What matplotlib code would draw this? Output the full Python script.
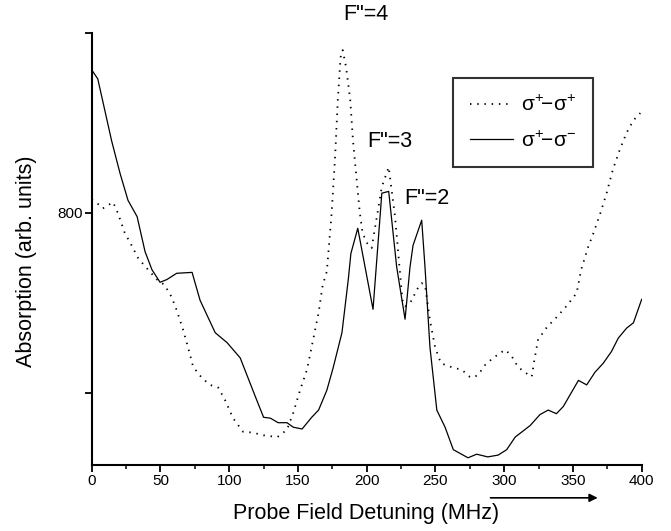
import matplotlib
matplotlib.use('Agg')
import matplotlib.pyplot as plt
from matplotlib.ticker import MultipleLocator

plt.rcParams['font.family'] = ['Liberation Sans', 'DejaVu Sans']
plt.rcParams['mathtext.fontset'] = 'custom'
plt.rcParams['mathtext.rm'] = 'Liberation Sans'

# sigma+ - sigma+ (dotted)
pp_x = [0, 3.9, 8, 15.5, 19, 24, 29, 33.7, 37, 41, 47.5, 53, 58, 61.8, 66.5, 70, 73.8,
        80, 86, 92, 97, 102.8, 110, 117, 125, 135, 142, 146.6, 151.5, 156.6, 161, 165,
        168, 171, 174.5, 177, 179, 181, 182.5, 185, 188, 190, 192.7, 195, 197, 200,
        203.6, 211, 216, 220.6, 226, 228, 233, 236, 240, 242.4, 246, 249.7, 254, 263,
        269, 275, 277, 281, 286, 292, 300.6, 305, 310, 315, 320, 322, 324.6, 331, 338,
        345, 352.7, 356, 361, 365, 370, 374.5, 379, 384, 389, 394, 399]
pp_y = [815, 811, 805, 812, 800, 778, 764, 750, 744, 737, 726, 720, 707, 692, 670, 651, 629,
        617, 609, 606, 592, 572, 557, 556, 553, 551, 559, 578, 603, 626, 659, 689,
        720, 735, 800, 862, 926, 973, 981, 962, 926, 881, 837, 800, 778, 767,
        761, 829, 851, 796, 703, 696, 703, 714, 722, 720, 681, 651, 633, 628,
        626, 618, 617, 620, 631, 639, 648, 642, 629, 623, 618, 637, 659, 673, 684,
        696, 711, 737, 762, 778, 800, 822, 848, 870, 889, 903, 911]

# sigma+ - sigma- (solid)
pm_x = [0, 4.4, 14.5, 20.6, 26.4, 33, 38.8, 43.8, 49.7, 54.6, 61.8, 73, 78.8, 89.8, 98.4,
        108, 119, 125, 130, 135.6, 142, 146.6, 153, 160, 165, 171, 175.6, 182, 186.6,
        188.5, 193.5, 204.6, 211, 216, 221.8, 227.9, 231.5, 233.7, 240, 242.4, 246, 251,
        257, 263, 273.7, 280, 288, 295.6, 301.8, 308, 319, 326, 332, 338, 343, 354, 360,
        366, 372, 378, 383, 389, 394, 400]
pm_y = [959, 949, 880, 844, 814, 796, 757, 737, 723, 726, 733, 734, 703, 667, 656,
        639, 596, 573, 572, 567, 567, 562, 560, 573, 581, 603, 628, 667, 726,
        755, 783, 693, 822, 824, 740, 682, 740, 764, 792, 740, 651, 581,
        562, 537, 528, 532, 529, 531, 537, 551, 564, 576, 581, 577, 585, 614, 609,
        623, 633, 646, 661, 672, 678, 704]

x_ticks = [0, 50, 100, 150, 200, 250, 300, 350, 400]
y_ticks = [600, 800, 1000]
y_tick_labels = ['', '800', '']

peak_labels = ['F"=4', 'F"=3', 'F"=2']
peak_x = [199.5, 217, 244]
peak_y = [1020, 879, 816]

fig = plt.figure(figsize=(6.71, 5.31), dpi=100)
ax = fig.add_axes([0.1367, 0.1243, 0.8196, 0.8136])

ax.plot(pp_x, pp_y, color='black', lw=1.3, linestyle=(0, (0.8, 3.2)),
        label=r'$\mathregular{\sigma^{+}\!\!-\!\sigma^{+}}$')
ax.plot(pm_x, pm_y, color='black', lw=0.9,
        label=r'$\mathregular{\sigma^{+}\!\!-\!\sigma^{-}}$')

ax.set_xlim(0, 400)
ax.set_ylim(520, 1000)
ax.set_xticks(x_ticks)
ax.xaxis.set_minor_locator(MultipleLocator(25))
ax.set_yticks(y_ticks)
ax.set_yticklabels(y_tick_labels)

for s in ['top', 'right']:
    ax.spines[s].set_visible(False)
for s in ['left', 'bottom']:
    ax.spines[s].set_linewidth(1.5)

ax.tick_params(axis='both', which='major', direction='out', length=5, width=1.3,
               labelsize=11, pad=1.5)
ax.tick_params(axis='x', which='minor', direction='out', length=3, width=1.1)

ax.set_xlabel('Probe Field Detuning (MHz)', fontsize=15.5)
ax.set_ylabel('Absorption (arb. units)', fontsize=15.5)
ax.xaxis.set_label_coords(0.499, -0.088)
ax.yaxis.set_label_coords(-0.1, 0.472)

for lab, px, py in zip(peak_labels, peak_x, peak_y):
    ax.text(px, py, lab, fontsize=15.5, ha='center', va='center', clip_on=False)

# direction arrow under the axis
ax.annotate('', xy=(370, -0.076), xytext=(288, -0.076),
            xycoords=('data', 'axes fraction'), textcoords=('data', 'axes fraction'),
            arrowprops=dict(arrowstyle='-|>', color='black', lw=1.2, mutation_scale=12),
            annotation_clip=False)

leg = ax.legend(loc='upper left', bbox_to_anchor=(0.675, 0.853),
                bbox_transform=fig.transFigure, fontsize=15, frameon=True,
                fancybox=False, edgecolor='black', handlelength=2.1,
                handletextpad=0.35, labelspacing=0.75, borderpad=0.8,
                borderaxespad=0)
leg.get_frame().set_linewidth(1.5)

fig.savefig('out.png', dpi=100)
